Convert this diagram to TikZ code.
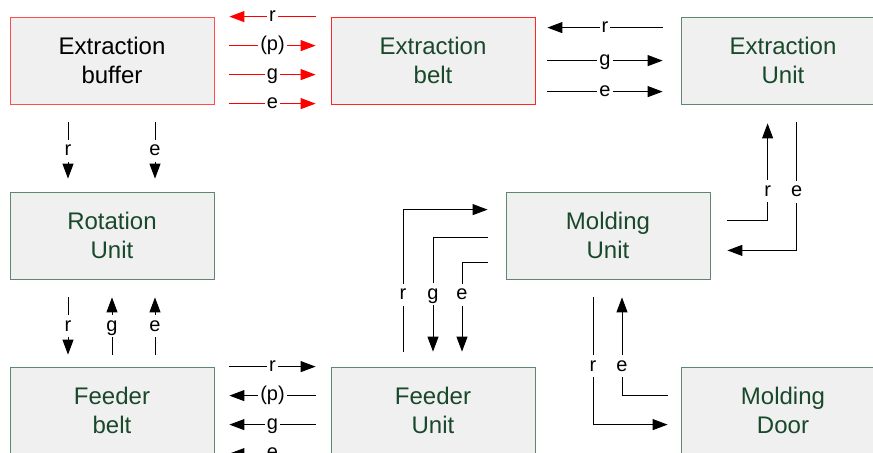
\documentclass[tikz,border=0pt]{standalone}
\usepackage{fontspec}
\setmainfont{Liberation Sans}
\usepackage{tikz}
\definecolor{unitgreen}{RGB}{95,135,110}
\definecolor{textgreen}{RGB}{25,72,42}
\definecolor{unitgray}{RGB}{240,240,240}
\usetikzlibrary{arrows.meta}

\begin{document}
\begin{tikzpicture}[x=0.5pt, y=0.5pt,
			>={Triangle[length=7.5pt,width=5.5pt]},   %Pfeilspitzen
			unit/.style={draw=unitgreen, fill=unitgray, minimum width=102pt, minimum height=43.5pt, align=center, text=textgreen, font=\fontsize{12}{14.5}\selectfont},
			redunit/.style={unit, draw=red!70},
			sig/.style={line width=0.5pt},
			redsig/.style={sig, red},
			lbl/.style={fill=white, inner sep=1pt, text height=7pt, text depth=2pt, text=black, font=\fontsize{10}{12}\selectfont}]
			%Bildbereich
			\useasboundingbox (0,0) rectangle (873,452);
			\clip (0,0) rectangle (873,452);
			%Kaesten
			\node[redunit, text=black] (buf) at (112,391.5) {Extraction\\buffer};
			\node[redunit, draw=red!85] (belt) at (433,391.5) {Extraction\\belt};
			\node[unit] (exu) at (783,391.5) {Extraction\\Unit};
			\node[unit] (rot) at (112,216.5) {Rotation\\Unit};
			\node[unit] (mold) at (608,216.5) {Molding\\Unit};
			\node[unit] (fbelt) at (112,41.5) {Feeder\\belt};
			\node[unit] (fu) at (433,41.5) {Feeder\\Unit};
			\node[unit] (door) at (783,41.5) {Molding\\Door};
			%Extraction buffer - Extraction belt
			\draw[redsig,<-] ([xshift=7.5pt]buf.north east) -- node[lbl]{r} ([xshift=-7.5pt]belt.north west);
			\foreach \lab/\dy in {{(p)}/14.5, g/29, e/43.5}
				\draw[redsig,->] ([xshift=7.5pt,yshift=-\dy pt]buf.north east) -- node[lbl]{\lab} ([xshift=-7.5pt,yshift=-\dy pt]belt.north west);
			%Extraction belt - Extraction Unit
			\draw[sig,<-] ([xshift=6pt,yshift=-5.5pt]belt.north east) -- node[lbl]{r} ([xshift=-9pt,yshift=-5.5pt]exu.north west);
			\foreach \lab/\dy in {g/22, e/37.5}
				\draw[sig,->] ([xshift=6pt,yshift=-\dy pt]belt.north east) -- node[lbl]{\lab} ([xshift=-9pt,yshift=-\dy pt]exu.north west);
			%Extraction buffer - Rotation Unit
			\foreach \lab/\dx in {r/-22, e/21.5}
				\draw[sig,->] ([xshift=\dx pt,yshift=-9pt]buf.south) -- node[lbl]{\lab} ([xshift=\dx pt,yshift=6.5pt]rot.north);
			%Rotation Unit - Feeder belt
			\draw[sig,->] ([xshift=-22pt,yshift=-9pt]rot.south) -- node[lbl]{r} ([xshift=-22pt,yshift=6pt]fbelt.north);
			\foreach \lab/\dx in {g/0, e/21.5}
				\draw[sig,<-] ([xshift=\dx pt,yshift=-9pt]rot.south) -- node[lbl]{\lab} ([xshift=\dx pt,yshift=6pt]fbelt.north);
			%Feeder belt - Feeder Unit
			\draw[sig,->] ([xshift=7.5pt]fbelt.north east) -- node[lbl]{r} ([xshift=-7.5pt]fu.north west);
			\foreach \lab/\dy in {{(p)}/14.5, g/29, e/43.5}
				\draw[sig,<-] ([xshift=7.5pt,yshift=-\dy pt]fbelt.north east) -- node[lbl]{\lab} ([xshift=-7.5pt,yshift=-\dy pt]fu.north west);
			%Feeder Unit - Molding Unit
			\draw[sig,->] ([xshift=-15pt,yshift=7.5pt]fu.north) |- node[lbl,pos=0.2]{r} ([xshift=-9pt,yshift=-9pt]mold.north west);
			\draw[sig,->] ([xshift=-9pt,yshift=-0.75pt]mold.west) -| node[lbl,pos=0.75]{g} ([yshift=7.5pt]fu.north);
			\draw[sig,->] ([xshift=-9pt,yshift=8.5pt]mold.south west) -| node[lbl,pos=0.68]{e} ([xshift=14.5pt,yshift=7.5pt]fu.north);
			%Molding Unit - Extraction Unit
			\draw[sig,->] ([xshift=8.5pt,yshift=-14.5pt]mold.north east) -| node[lbl,pos=0.65]{r} ([xshift=43.5pt,yshift=-9.5pt]exu.south west);
			\draw[sig,->] ([xshift=58pt,yshift=-9pt]exu.south west) |- node[lbl,pos=0.27]{e} ([xshift=8.5pt,yshift=14.5pt]mold.south east);
			%Molding Unit - Molding Door
			\draw[sig,->] ([xshift=-7.5pt,yshift=-9pt]mold.south) |- node[lbl,pos=0.27]{r} ([xshift=-6.5pt,yshift=-29pt]door.north west);
			\draw[sig,->] ([xshift=-6.5pt,yshift=-14.5pt]door.north west) -| node[lbl,pos=0.65]{e} ([xshift=7pt,yshift=-9pt]mold.south);
		\end{tikzpicture}
\end{document}
